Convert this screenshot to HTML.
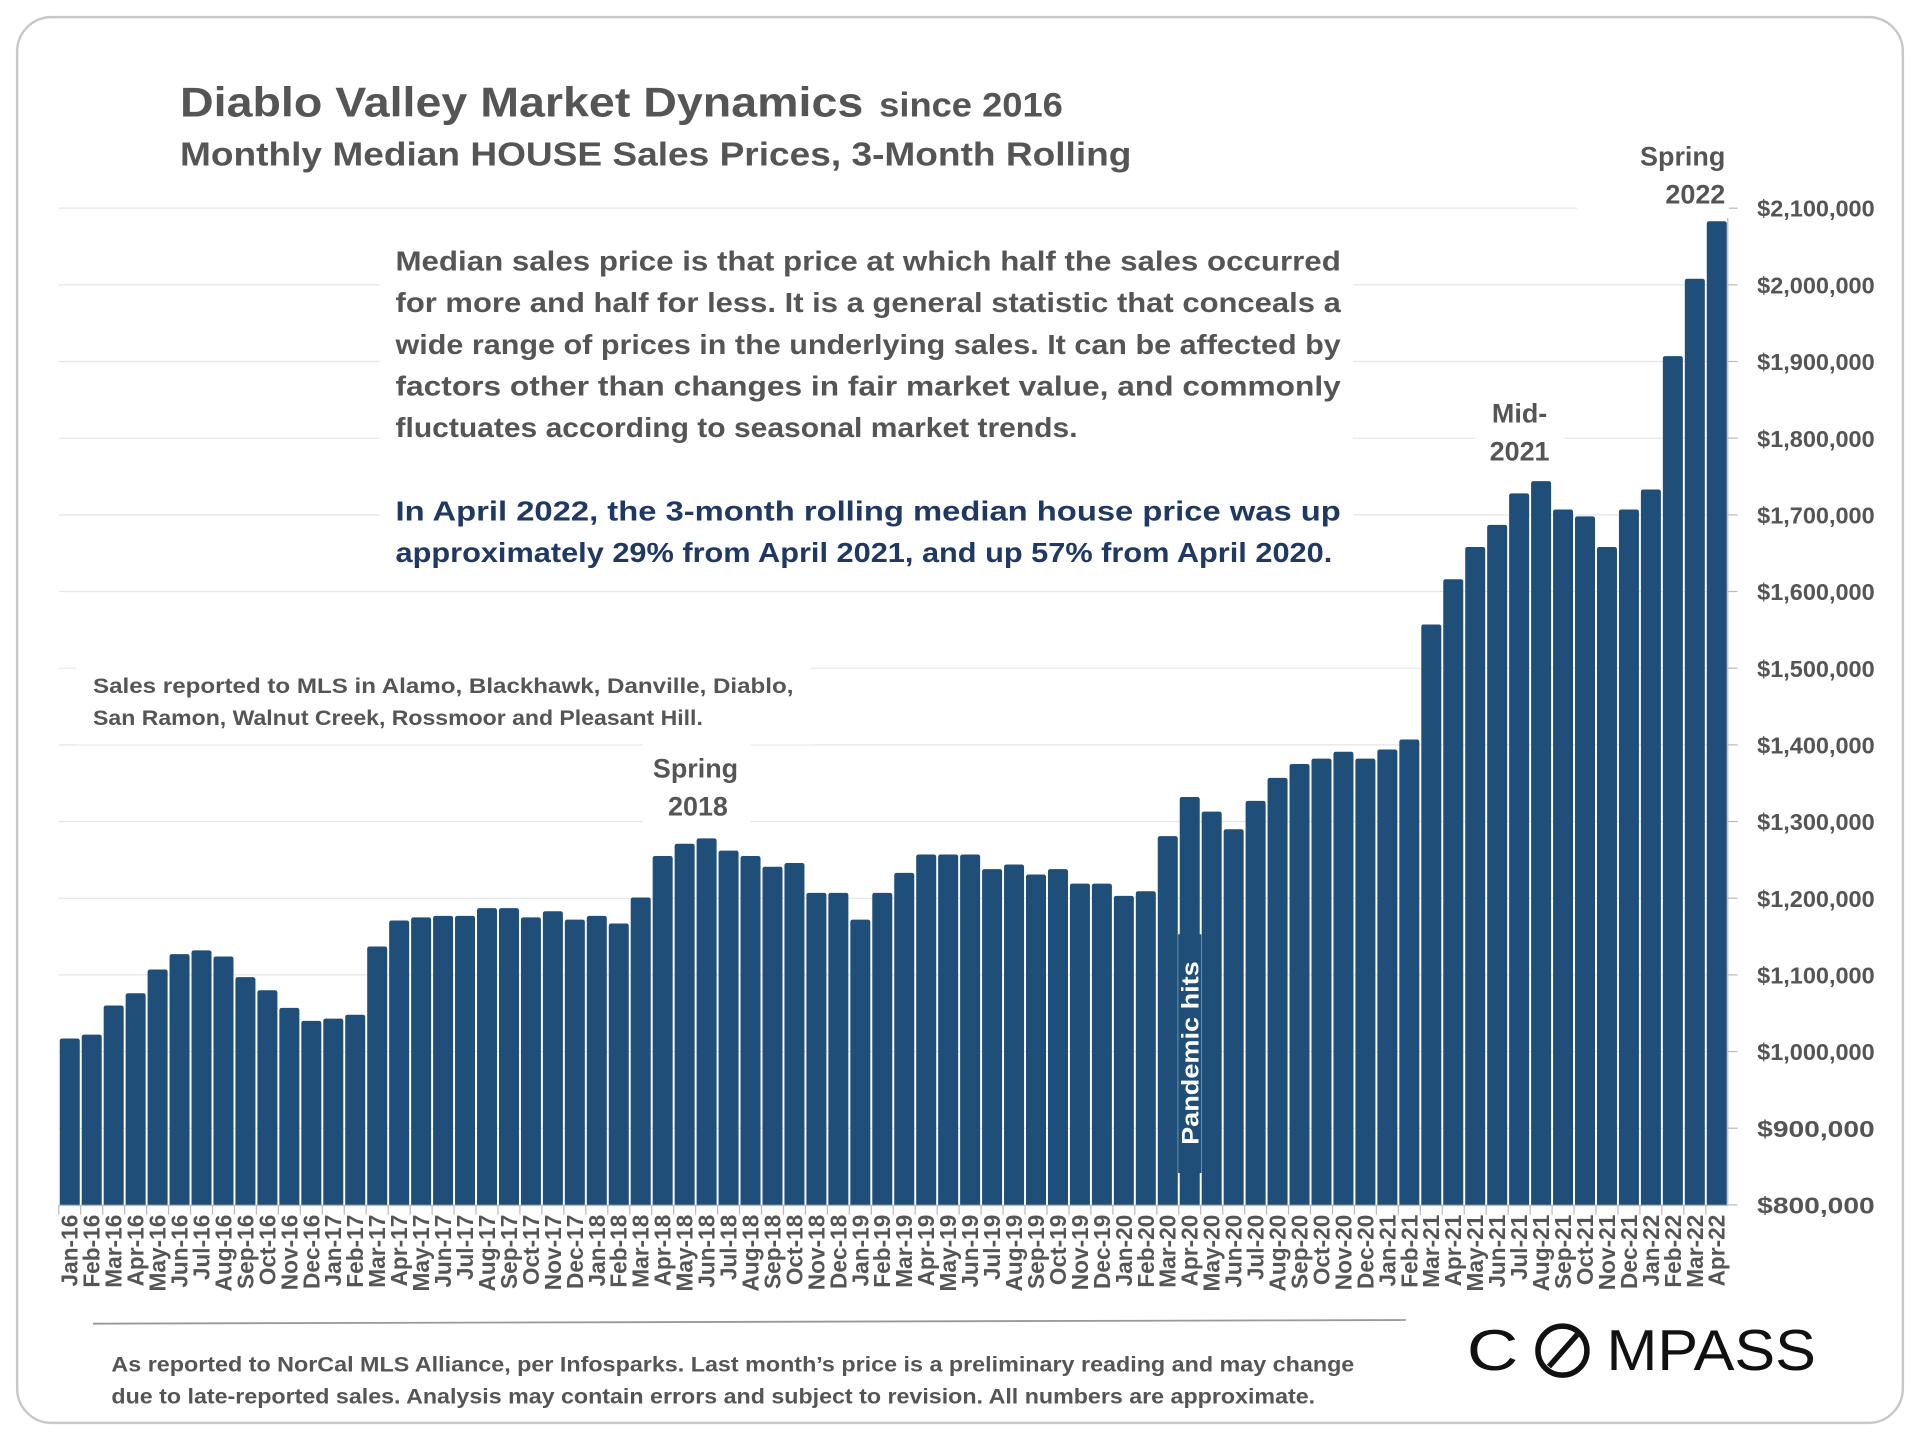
<!DOCTYPE html>
<html><head><meta charset="utf-8"><style>
html,body{margin:0;padding:0;background:#fff}
svg{display:block}
text{font-family:"Liberation Sans",sans-serif}
</style></head><body>
<svg id="chart" width="1920" height="1440" viewBox="0 0 1568 1176" xmlns="http://www.w3.org/2000/svg">
<rect x="14" y="14" width="1540" height="1148" rx="28" fill="#fff" stroke="#c8c8c8" stroke-width="2"/>
<g id="grid"></g>
<g id="bars"></g>
<g id="xlabels"></g>
<g id="ylabels"></g>
<text x="147" y="95" font-size="34" font-weight="bold" fill="#555" textLength="558" lengthAdjust="spacingAndGlyphs">Diablo Valley Market Dynamics</text>
<text x="718" y="95" font-size="28" font-weight="bold" fill="#555" textLength="150" lengthAdjust="spacingAndGlyphs">since 2016</text>
<text x="147" y="135" font-size="27" font-weight="bold" fill="#555" textLength="777" lengthAdjust="spacingAndGlyphs">Monthly Median HOUSE Sales Prices, 3-Month Rolling</text>
<rect x="310" y="192" width="795" height="280" fill="#fff"/>
<g font-size="22.5" font-weight="bold" fill="#555">
<text x="323" y="221" textLength="772" lengthAdjust="spacingAndGlyphs">Median sales price is that price at which half the sales occurred</text>
<text x="323" y="255" textLength="772" lengthAdjust="spacingAndGlyphs">for more and half for less. It is a general statistic that conceals a</text>
<text x="323" y="289" textLength="772" lengthAdjust="spacingAndGlyphs">wide range of prices in the underlying sales. It can be affected by</text>
<text x="323" y="323" textLength="772" lengthAdjust="spacingAndGlyphs">factors other than changes in fair market value, and commonly</text>
<text x="323" y="357" textLength="557" lengthAdjust="spacingAndGlyphs">fluctuates according to seasonal market trends.</text>
</g>
<g font-size="22.5" font-weight="bold" fill="#1f3864">
<text x="323" y="425" textLength="772" lengthAdjust="spacingAndGlyphs">In April 2022, the 3-month rolling median house price was up</text>
<text x="323" y="459" textLength="765" lengthAdjust="spacingAndGlyphs">approximately 29% from April 2021, and up 57% from April 2020.</text>
</g>
<rect x="62" y="540" width="600" height="68" fill="#fff"/>
<g font-size="17" font-weight="bold" fill="#555">
<text x="76" y="566" textLength="572" lengthAdjust="spacingAndGlyphs">Sales reported to MLS in Alamo, Blackhawk, Danville, Diablo,</text>
<text x="76" y="592" textLength="498" lengthAdjust="spacingAndGlyphs">San Ramon, Walnut Creek, Rossmoor and Pleasant Hill.</text>
</g>
<rect x="525" y="608" width="88" height="70" fill="#fff"/>
<g font-size="22" font-weight="bold" fill="#555" text-anchor="middle">
<text x="568" y="635">Spring</text><text x="570" y="666">2018</text></g>
<rect x="1205" y="318" width="72" height="68" fill="#fff"/>
<g font-size="22" font-weight="bold" fill="#555" text-anchor="middle">
<text x="1241" y="345">Mid-</text><text x="1241" y="376">2021</text></g>
<rect x="1288" y="110" width="124" height="66" fill="#fff"/>
<g font-size="22" font-weight="bold" fill="#555" text-anchor="end">
<text x="1409" y="135">Spring</text><text x="1409" y="166">2022</text></g>
<g id="pandemic"></g>
<line x1="76" y1="1081" x2="1148" y2="1078" stroke="#999" stroke-width="1.5"/>
<g font-size="17.5" font-weight="bold" fill="#555">
<text x="91" y="1120" textLength="1015" lengthAdjust="spacingAndGlyphs">As reported to NorCal MLS Alliance, per Infosparks. Last month’s price is a preliminary reading and may change</text>
<text x="91" y="1146" textLength="983" lengthAdjust="spacingAndGlyphs">due to late-reported sales. Analysis may contain errors and subject to revision. All numbers are approximate.</text>
</g>
<g>
<text x="1198" y="1119" font-size="47" fill="#111" textLength="42" lengthAdjust="spacingAndGlyphs">C</text>
<circle cx="1276" cy="1103" r="20" fill="none" stroke="#111" stroke-width="4.5"/>
<line x1="1265" y1="1116" x2="1288" y2="1090" stroke="#111" stroke-width="4.5"/>
<text x="1312" y="1119" font-size="47" fill="#111" textLength="171" lengthAdjust="spacingAndGlyphs">MPASS</text>
</g>
</svg>
<script>
const months = ["Jan-16","Feb-16","Mar-16","Apr-16","May-16","Jun-16","Jul-16","Aug-16","Sep-16","Oct-16","Nov-16","Dec-16","Jan-17","Feb-17","Mar-17","Apr-17","May-17","Jun-17","Jul-17","Aug-17","Sep-17","Oct-17","Nov-17","Dec-17","Jan-18","Feb-18","Mar-18","Apr-18","May-18","Jun-18","Jul-18","Aug-18","Sep-18","Oct-18","Nov-18","Dec-18","Jan-19","Feb-19","Mar-19","Apr-19","May-19","Jun-19","Jul-19","Aug-19","Sep-19","Oct-19","Nov-19","Dec-19","Jan-20","Feb-20","Mar-20","Apr-20","May-20","Jun-20","Jul-20","Aug-20","Sep-20","Oct-20","Nov-20","Dec-20","Jan-21","Feb-21","Mar-21","Apr-21","May-21","Jun-21","Jul-21","Aug-21","Sep-21","Oct-21","Nov-21","Dec-21","Jan-22","Feb-22","Mar-22","Apr-22"];
const prices = [1017000,1022000,1060000,1076000,1107000,1127000,1132000,1124000,1097000,1080000,1057000,1040000,1043000,1048000,1137000,1171000,1175000,1177000,1177000,1187000,1187000,1175000,1183000,1172000,1177000,1167000,1201000,1255000,1271000,1278000,1262000,1255000,1241000,1246000,1207000,1207000,1172000,1207000,1233000,1257000,1257000,1257000,1238000,1244000,1231000,1238000,1219000,1219000,1203000,1209000,1281000,1332000,1313000,1290000,1327000,1357000,1375000,1382000,1391000,1382000,1394000,1407000,1557000,1616000,1658000,1687000,1728000,1744000,1707000,1698000,1658000,1707000,1733000,1907000,2008000,2083000];
const yTicks = [800000,900000,1000000,1100000,1200000,1300000,1400000,1500000,1600000,1700000,1800000,1900000,2000000,2100000];
const NS="http://www.w3.org/2000/svg";
const X0=48,X1=1411,Y0=984,Y1=170,YMIN=800000,YMAX=2100000;
const slot=(X1-X0)/months.length;
const xs=i=>X0+i*slot;
const ys=v=>Y0-(v-YMIN)/(YMAX-YMIN)*(Y0-Y1);
function mk(tag,attrs,parent){const e=document.createElementNS(NS,tag);for(const k in attrs)e.setAttribute(k,attrs[k]);parent.appendChild(e);return e;}
const grid=document.getElementById('grid'),bars=document.getElementById('bars'),xl=document.getElementById('xlabels'),yl=document.getElementById('ylabels');
yTicks.forEach(t=>{
  if(t>YMIN){const l=mk('line',{x1:X0,x2:X1,y1:ys(t),y2:ys(t),stroke:'#e6e6e6','stroke-width':1},grid);
  
  }
  const tk=mk('line',{x1:X1,x2:X1+8,y1:ys(t),y2:ys(t),stroke:'#bbb'},yl);
  
  
  const tx=mk('text',{x:1531,y:ys(t)+7,'font-size':19,'font-weight':'bold',fill:'#555','text-anchor':'end',textLength:96,lengthAdjust:'spacingAndGlyphs'},yl);
  tx.textContent='$'+t.toLocaleString('en-US');
  
  
});
const ax=mk('line',{x1:X1,x2:X1,y1:Y1+8,y2:Y0,stroke:'#bbb'},yl);


const bx=mk('line',{x1:X0,x2:X1,y1:Y0+0.5,y2:Y0+0.5,stroke:'#bbb'},xl);


prices.forEach((v,i)=>{
  const y=ys(v);
  const r=mk('path',{d:`M${xs(i)+0.8},${Y0} V${y+2} Q${xs(i)+0.8},${y} ${xs(i)+2.8},${y} H${xs(i)+slot-2.8} Q${xs(i)+slot-0.8},${y} ${xs(i)+slot-0.8},${y+2} V${Y0} Z`,fill:'#1f4e79'},bars);
  
  
  const tk=mk('line',{x1:xs(i),x2:xs(i),y1:Y0,y2:Y0+8,stroke:'#bbb'},xl);
  
  
  const cx=xs(i)+slot/2+6.5;
  const t=mk('text',{x:cx,y:992,'font-size':18.5,'font-weight':'bold',fill:'#555','text-anchor':'end',transform:`rotate(-90 ${cx} 992)`},xl);
  t.textContent=months[i];
  
  
});
const pi=months.indexOf('Apr-20');
const pg=document.getElementById('pandemic');
const pr=mk('rect',{x:xs(pi)-0.5,y:763,width:slot+1,height:195,fill:'#1f4e79'},pg);


const pc=xs(pi)+slot/2+7;
const pt=mk('text',{x:pc,y:860,'font-size':20,'font-weight':'bold',fill:'#fff','text-anchor':'middle',transform:`rotate(-90 ${pc} 860)`,textLength:150,lengthAdjust:'spacingAndGlyphs'},pg);
pt.textContent='Pandemic hits';


</script>
</body></html>
